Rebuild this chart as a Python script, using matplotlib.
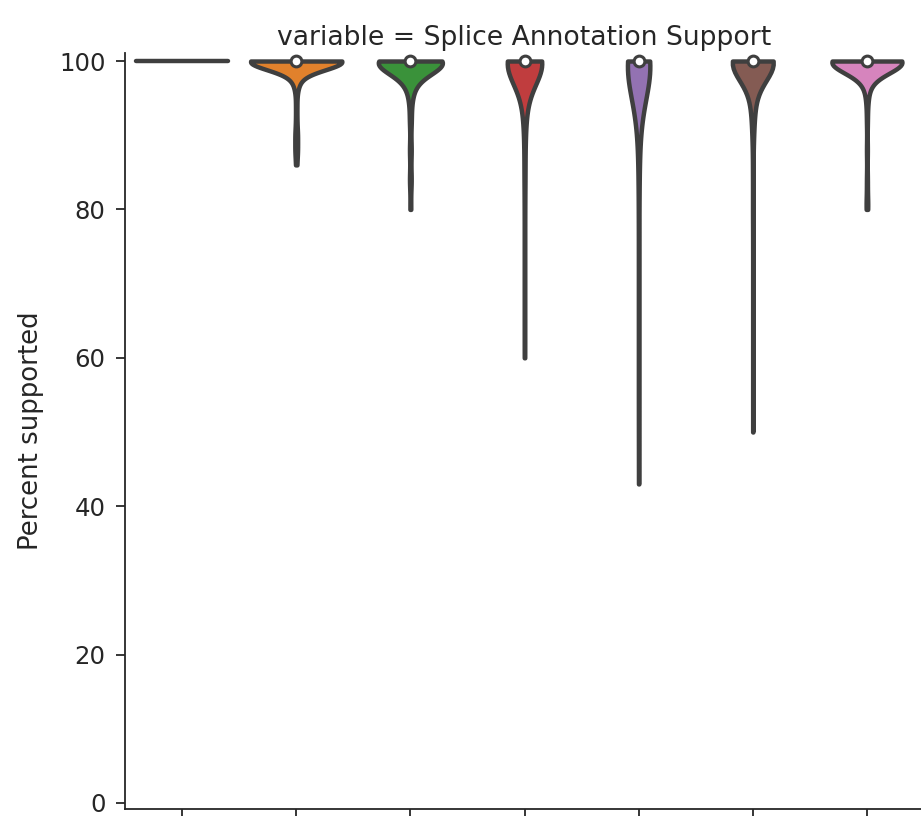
import numpy as np
import pandas as pd
import matplotlib
matplotlib.use("Agg")
import matplotlib.pyplot as plt
import seaborn as sns

# methods (x tick labels fall below the visible frame)
methods = ["GENCODE", "FLAIR", "StringTie2", "TALON", "Bambu", "IsoQuant", "ESPRESSO"]

# percent supported per sample: value levels and how many samples sit on each
gencode_vals = [100]
gencode_counts = [60]
flair_vals = [100, 99, 98, 97, 96, 94, 92, 90, 88, 86]
flair_counts = [80, 8, 4, 2, 1, 1, 1, 2, 2, 1]
stringtie_vals = [100, 99, 98, 97, 95, 92, 88, 84, 80]
stringtie_counts = [64, 12, 7, 5, 3, 2, 2, 2, 1]
talon_vals = [100, 99, 97, 95, 93, 90, 85, 80, 75, 70, 65, 60]
talon_counts = [70, 10, 6, 4, 3, 2, 2, 1, 1, 1, 1, 1]
bambu_vals = [100, 99, 98, 96, 94, 92, 89, 85, 80, 75, 70, 65, 60, 55, 50, 43]
bambu_counts = [60, 10, 8, 6, 4, 3, 2, 2, 1, 1, 1, 1, 1, 1, 1, 1]
isoquant_vals = [100, 99, 97, 95, 93, 90, 85, 80, 75, 70, 65, 60, 55, 50]
isoquant_counts = [150, 20, 12, 8, 6, 4, 2, 2, 1, 1, 1, 1, 1, 1]
espresso_vals = [100, 99, 98, 97, 95, 92, 88, 84, 81, 80]
espresso_counts = [72, 10, 5, 3, 2, 1, 1, 1, 1, 1]

all_vals = [gencode_vals, flair_vals, stringtie_vals, talon_vals,
            bambu_vals, isoquant_vals, espresso_vals]
all_counts = [gencode_counts, flair_counts, stringtie_counts, talon_counts,
              bambu_counts, isoquant_counts, espresso_counts]

rows = []
for m, v, c in zip(methods, all_vals, all_counts):
    for val in np.repeat(v, c):
        rows.append((m, float(val)))
df = pd.DataFrame(rows, columns=["method", "value"])

# methods whose values never change get drawn as a flat line (no density)
flat = df.groupby("method")["value"].nunique() == 1
df_kde = df[~df["method"].isin(flat[flat].index)]

sns.set_style("ticks")
plt.rcParams["font.family"] = ["DejaVu Sans"]
plt.rcParams["text.color"] = ".15"
plt.rcParams["axes.labelcolor"] = ".15"
plt.rcParams["xtick.color"] = ".15"
plt.rcParams["ytick.color"] = ".15"

gray = "#3f3f3f"
vwidth = 0.8

fig = plt.figure(figsize=(9.21, 8.16), dpi=100)
ax = fig.add_axes([125 / 921, 7 / 816, 799 / 921, 756 / 816])

sns.violinplot(data=df_kde, x="method", y="value", hue="method",
               order=methods, hue_order=methods, palette="tab10",
               cut=0, inner=None, linewidth=3.2, linecolor=gray, width=vwidth,
               density_norm="area", common_norm=True, saturation=0.75,
               legend=False, ax=ax)

for i, m in enumerate(methods):
    obs = df.loc[df["method"] == m, "value"].to_numpy()
    if np.ptp(obs) == 0:
        ax.plot([i - vwidth / 2, i + vwidth / 2], [obs[0], obs[0]], color=gray,
                lw=3.2, solid_capstyle="round")
    else:
        ax.scatter(i, np.median(obs), s=60, color="white", edgecolor=gray,
                   linewidth=2.2, zorder=3)

ax.set_xlim(-0.5, 6.5)
ax.set_ylim(-0.81, 101.08)
ax.set_yticks([0, 20, 40, 60, 80, 100])
ax.set_xlabel("")
ax.set_ylabel("Percent supported", fontsize=18.7, labelpad=11)
ax.set_title("variable = Splice Annotation Support", fontsize=19.2)
ax.tick_params(axis="both", labelsize=17.6, length=6.5, width=1.3, pad=7.5)
ax.tick_params(axis="x", labelbottom=False)
for s in ["left", "bottom"]:
    ax.spines[s].set_linewidth(1.3)
    ax.spines[s].set_color(".15")
sns.despine(ax=ax)

fig.savefig("out.png", dpi=100)
